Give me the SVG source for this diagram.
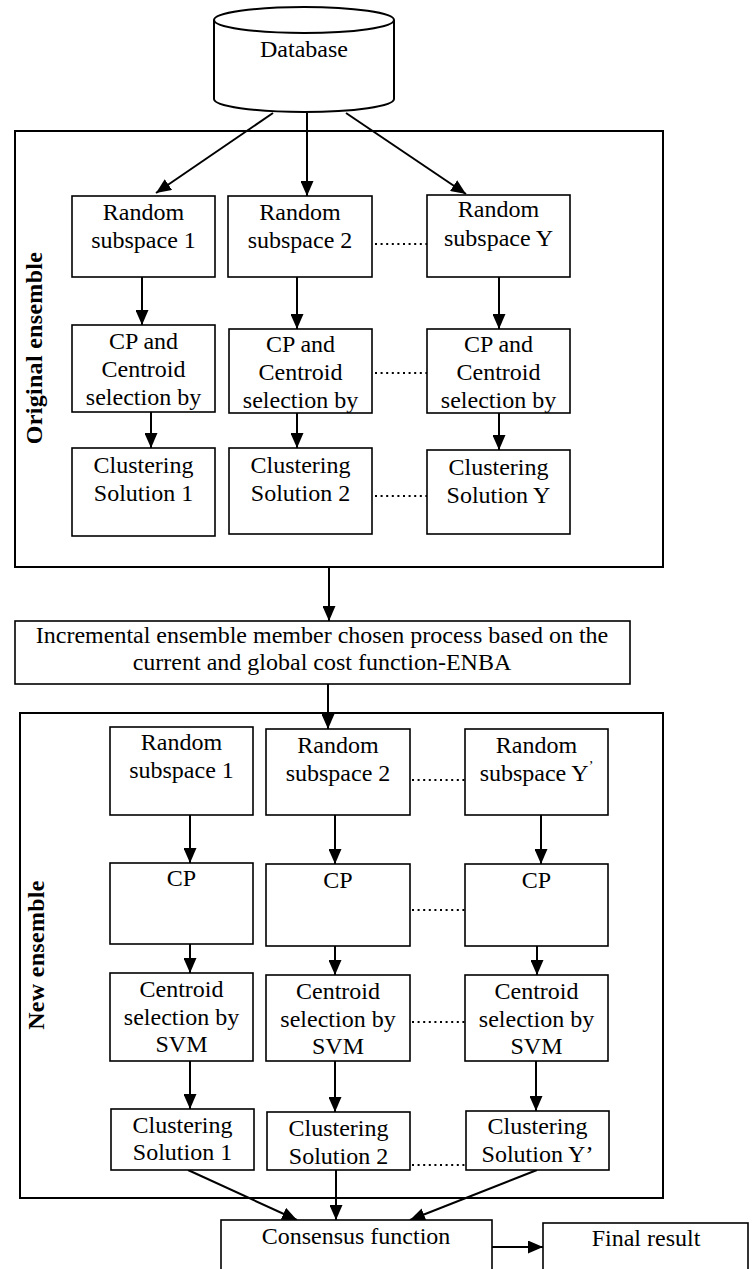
<svg xmlns="http://www.w3.org/2000/svg" width="753" height="1269" viewBox="0 0 753 1269">
<style>
.box{fill:#fff;stroke:#000;stroke-width:1.6}
.frame{fill:none;stroke:#000;stroke-width:2}
.arr{stroke:#000;stroke-width:2;fill:none;marker-end:url(#ah)}
.dots{stroke:#000;stroke-width:2;stroke-dasharray:2 3.6;fill:none}
text{font-family:"Liberation Serif","Times New Roman",serif;font-size:24px;text-anchor:middle;fill:#000}
.lbl{font-weight:bold;letter-spacing:0.3px}
</style>
<defs>
<marker id="ah" viewBox="0 0 15 13" refX="15" refY="6.5" markerWidth="15" markerHeight="13" markerUnits="userSpaceOnUse" orient="auto">
<path d="M0,0 L15,6.5 L0,13 z" fill="#000"/>
</marker>
</defs>

<g id="frames">
<rect class="frame" x="15" y="131" width="648" height="436"/>
<rect class="frame" x="20" y="713" width="643" height="485"/>
<text class="lbl" transform="translate(42,348) rotate(-90)">Original ensemble</text>
<text class="lbl" transform="translate(44,955) rotate(-90)">New ensemble</text>
</g>

<g id="database">
<path d="M214,20 V99 A90,13 0 0 0 394,99 V20" fill="#fff" stroke="#000" stroke-width="2"/>
<ellipse cx="304" cy="20" rx="90" ry="13" fill="#fff" stroke="#000" stroke-width="2"/>
<text x="304" y="57">Database</text>
</g>

<g id="connectors">
<line class="arr" x1="273" y1="113" x2="156" y2="193"/>
<line class="arr" x1="307" y1="113" x2="307" y2="196"/>
<line class="arr" x1="346" y1="113" x2="466" y2="194"/>
<line class="arr" x1="142" y1="277" x2="142" y2="325"/>
<line class="arr" x1="297" y1="277" x2="297" y2="329"/>
<line class="arr" x1="499" y1="277" x2="499" y2="329"/>
<line class="arr" x1="151" y1="412" x2="151" y2="448"/>
<line class="arr" x1="297" y1="413" x2="297" y2="448"/>
<line class="arr" x1="499" y1="413" x2="499" y2="450"/>
<line class="arr" x1="329" y1="567" x2="329" y2="621"/>
<line class="arr" x1="328" y1="684" x2="328" y2="729"/>
<line class="arr" x1="190" y1="815" x2="190" y2="863"/>
<line class="arr" x1="335" y1="815" x2="335" y2="864"/>
<line class="arr" x1="541" y1="815" x2="541" y2="864"/>
<line class="arr" x1="190" y1="944" x2="190" y2="973"/>
<line class="arr" x1="335" y1="946" x2="335" y2="975"/>
<line class="arr" x1="537" y1="946" x2="537" y2="975"/>
<line class="arr" x1="190" y1="1061" x2="190" y2="1109"/>
<line class="arr" x1="335" y1="1061" x2="335" y2="1112"/>
<line class="arr" x1="536" y1="1061" x2="536" y2="1111"/>
<line class="arr" x1="188" y1="1170" x2="297" y2="1220"/>
<line class="arr" x1="336" y1="1170" x2="336" y2="1220"/>
<line class="arr" x1="537" y1="1170" x2="410" y2="1220"/>
<line class="arr" x1="492" y1="1247" x2="543" y2="1247"/>
<line class="dots" x1="375" y1="244" x2="427" y2="244"/>
<line class="dots" x1="375" y1="373" x2="427" y2="373"/>
<line class="dots" x1="375" y1="496" x2="427" y2="496"/>
<line class="dots" x1="412" y1="780" x2="465" y2="780"/>
<line class="dots" x1="412" y1="910" x2="465" y2="910"/>
<line class="dots" x1="412" y1="1022" x2="465" y2="1022"/>
<line class="dots" x1="412" y1="1165" x2="466" y2="1165"/>
</g>

<g id="o-rs1"><rect class="box" x="72" y="196" width="143" height="81"/><text x="143.5" y="220">Random</text><text x="143.5" y="248">subspace 1</text></g>
<g id="o-rs2"><rect class="box" x="228" y="196" width="144" height="81"/><text x="300" y="220">Random</text><text x="300" y="248">subspace 2</text></g>
<g id="o-rsy"><rect class="box" x="427" y="195" width="143" height="82"/><text x="498.5" y="217">Random</text><text x="498.5" y="246">subspace Y</text></g>

<g id="o-cp1"><rect class="box" x="72" y="325" width="143" height="87"/><text x="143.5" y="349">CP and</text><text x="143.5" y="377">Centroid</text><text x="143.5" y="405">selection by</text></g>
<g id="o-cp2"><rect class="box" x="229" y="329" width="143" height="84"/><text x="300.5" y="352">CP and</text><text x="300.5" y="380">Centroid</text><text x="300.5" y="408">selection by</text></g>
<g id="o-cpy"><rect class="box" x="427" y="329" width="143" height="84"/><text x="498.5" y="352">CP and</text><text x="498.5" y="380">Centroid</text><text x="498.5" y="408">selection by</text></g>

<g id="o-cs1"><rect class="box" x="72" y="448" width="143" height="88"/><text x="143.5" y="473">Clustering</text><text x="143.5" y="501">Solution 1</text></g>
<g id="o-cs2"><rect class="box" x="229" y="448" width="143" height="86"/><text x="300.5" y="473">Clustering</text><text x="300.5" y="501">Solution 2</text></g>
<g id="o-csy"><rect class="box" x="427" y="450" width="143" height="84"/><text x="498.5" y="475">Clustering</text><text x="498.5" y="503">Solution Y</text></g>

<g id="incremental"><rect class="box" x="15" y="621" width="615" height="63"/><text x="322" y="643">Incremental ensemble member chosen process based on the</text><text x="322" y="670">current and global cost function-ENBA</text></g>

<g id="n-rs1"><rect class="box" x="110" y="727" width="143" height="88"/><text x="181.5" y="750">Random</text><text x="181.5" y="778">subspace 1</text></g>
<g id="n-rs2"><rect class="box" x="266" y="729" width="144" height="86"/><text x="338" y="753">Random</text><text x="338" y="781">subspace 2</text></g>
<g id="n-rsy"><rect class="box" x="465" y="729" width="143" height="86"/><text x="536.5" y="753">Random</text><text x="536.5" y="781">subspace Y<tspan font-size="14" dy="-10">’</tspan></text></g>

<g id="n-cp1"><rect class="box" x="110" y="863" width="143" height="81"/><text x="181.5" y="886">CP</text></g>
<g id="n-cp2"><rect class="box" x="266" y="864" width="144" height="82"/><text x="338" y="888">CP</text></g>
<g id="n-cpy"><rect class="box" x="465" y="864" width="143" height="82"/><text x="536.5" y="888">CP</text></g>

<g id="n-cc1"><rect class="box" x="110" y="973" width="143" height="88"/><text x="181.5" y="997">Centroid</text><text x="181.5" y="1025">selection by</text><text x="181.5" y="1052">SVM</text></g>
<g id="n-cc2"><rect class="box" x="266" y="975" width="144" height="86"/><text x="338" y="999">Centroid</text><text x="338" y="1027">selection by</text><text x="338" y="1054">SVM</text></g>
<g id="n-ccy"><rect class="box" x="465" y="975" width="143" height="86"/><text x="536.5" y="999">Centroid</text><text x="536.5" y="1027">selection by</text><text x="536.5" y="1054">SVM</text></g>

<g id="n-cs1"><rect class="box" x="111" y="1109" width="143" height="61"/><text x="182.5" y="1133">Clustering</text><text x="182.5" y="1160">Solution 1</text></g>
<g id="n-cs2"><rect class="box" x="267" y="1112" width="143" height="58"/><text x="338.5" y="1136">Clustering</text><text x="338.5" y="1164">Solution 2</text></g>
<g id="n-csy"><rect class="box" x="466" y="1111" width="143" height="59"/><text x="537.5" y="1134">Clustering</text><text x="537.5" y="1162">Solution Y’</text></g>

<g id="consensus"><rect class="box" x="221" y="1220" width="271" height="70"/><text x="356" y="1244">Consensus function</text></g>
<g id="final"><rect class="box" x="543" y="1223" width="205" height="70"/><text x="646" y="1246">Final result</text></g>
</svg>
